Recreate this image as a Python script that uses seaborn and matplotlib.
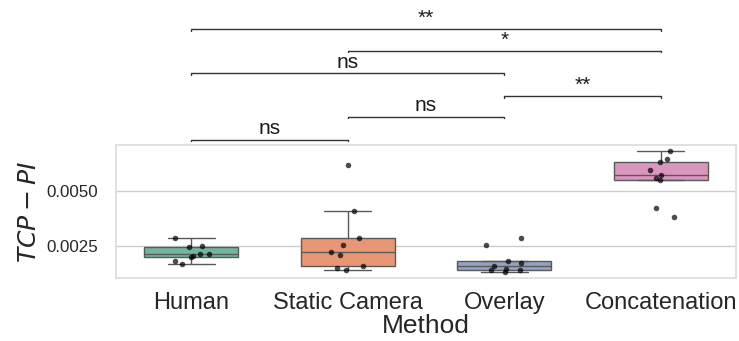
import numpy as np
import pandas
import seaborn
from matplotlib import pyplot as plt
from matplotlib import ticker, transforms

methods = ["Human", "Static Camera", "Overlay", "Concatenation"]

human = [0.00283, 0.00247, 0.00244, 0.00212, 0.00210, 0.00204, 0.00198, 0.00179, 0.00167]
static_camera = [0.00619, 0.00409, 0.00283, 0.00252, 0.00220, 0.00208, 0.00159, 0.00146, 0.00137]
overlay = [0.00283, 0.00251, 0.00182, 0.00171, 0.00157, 0.00144, 0.00139, 0.00139, 0.00130]
concatenation = [0.00684, 0.00646, 0.00634, 0.00597, 0.00575, 0.00561, 0.00550, 0.00421, 0.00383]

# (group a, group b, label), from lowest bracket to highest
pairs = [
    ("Human", "Static Camera", "ns"),
    ("Static Camera", "Overlay", "ns"),
    ("Overlay", "Concatenation", "**"),
    ("Human", "Overlay", "ns"),
    ("Static Camera", "Concatenation", "*"),
    ("Human", "Concatenation", "**"),
]
bracket_levels = [1.038, 1.211, 1.368, 1.541, 1.707, 1.872]

df = pandas.DataFrame(
    {
        "Method": np.repeat(methods, [len(human), len(static_camera), len(overlay), len(concatenation)]),
        "value": human + static_camera + overlay + concatenation,
    }
)

seaborn.set_theme(style="whitegrid")
plt.rcParams["font.family"] = ["Liberation Sans", "DejaVu Sans"]

fig = plt.figure(figsize=(7.39, 3.41), dpi=100)
ax = fig.add_axes([0.157, 0.185, 0.839, 0.39])

seaborn.boxplot(
    data=df,
    x="Method",
    y="value",
    hue="Method",
    order=methods,
    palette="Set2",
    width=0.6,
    showfliers=False,
    linewidth=1,
    legend=False,
    ax=ax,
)
np.random.seed(7)
seaborn.stripplot(
    data=df, x="Method", y="value", order=methods, color="black",
    alpha=0.7, size=4, jitter=0.12, ax=ax,
)

ax.yaxis.set_major_locator(ticker.MultipleLocator(0.0025))
ax.tick_params(axis="x", labelsize=17, pad=4)
ax.tick_params(axis="y", labelsize=12.2, pad=7)
ax.set_xlabel("Method", fontsize=19, labelpad=0)
ax.set_ylabel(r"$TCP-PI$", fontsize=18, labelpad=4)
for s in ax.spines.values():
    s.set_color("#dddddd")

# significance brackets above the axes
trans = transforms.blended_transform_factory(ax.transData, ax.transAxes)
for (a, b, label), level in zip(pairs, bracket_levels):
    x1, x2 = methods.index(a), methods.index(b)
    tip = 0.012
    ax.plot([x1, x1, x2, x2], [level - tip, level, level, level - tip],
            color="#333333", lw=1, transform=trans, clip_on=False)
    ax.annotate(label, xy=((x1 + x2) / 2, level), xycoords=trans,
                xytext=(0, 1), textcoords="offset points",
                ha="center", va="bottom", fontsize=15, color="#1a1a1a")

fig.savefig("out.png", dpi=100)
